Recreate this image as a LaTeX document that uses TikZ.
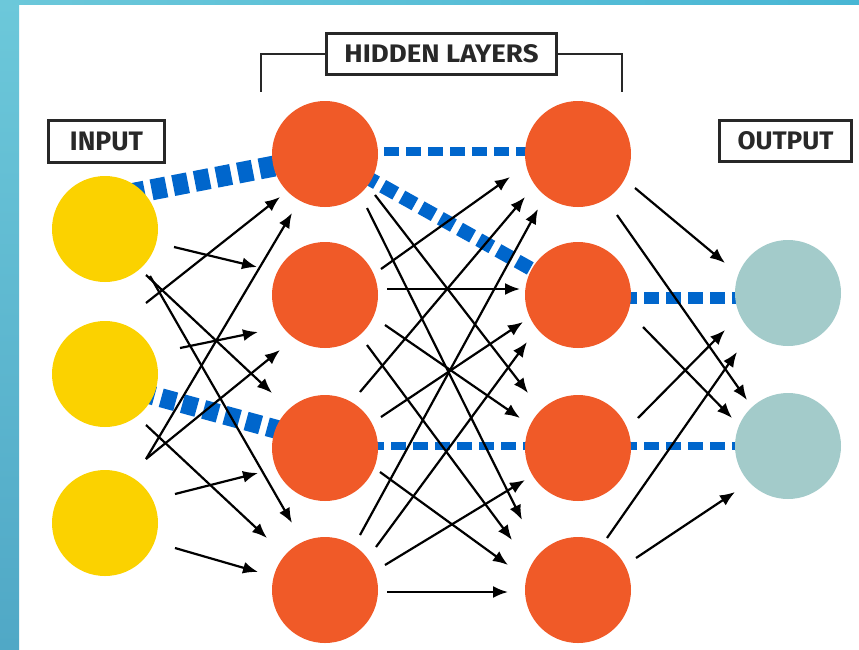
\documentclass[tikz,border=0pt]{standalone}
\usepackage{graphicx}
\usepackage{fontspec}
\setmainfont{Fira Sans}
\usetikzlibrary{arrows.meta,calc}
\definecolor{yel}{RGB}{251,210,0}
\definecolor{org}{RGB}{240,90,40}
\definecolor{tea}{RGB}{163,203,202}
\definecolor{blu}{RGB}{0,102,204}
\definecolor{frm}{RGB}{108,200,218}
\definecolor{frmd}{RGB}{80,168,198}
\definecolor{frmr}{RGB}{72,182,212}
\definecolor{ink}{RGB}{40,40,40}
\tikzset{
  neuron/.style={circle, inner sep=0pt, minimum size=106pt, draw=none},
  lbl/.style={draw=ink, line width=2.6pt, inner sep=0pt, text=ink, font=\bfseries},
  arr/.style={-{Latex[length=15pt,width=12pt]}, line width=2.2pt, black},
  bd/.style={blu, dash pattern=on 15pt off 7pt},
  brk/.style={ink, line width=2.4pt}
}
\begin{document}
\begin{tikzpicture}[x=1pt,y=-1pt]
\useasboundingbox (0,0) rectangle (859,649);
\fill[white] (0,0) rectangle (859,649);
\shade[top color=frm, bottom color=frmd] (0,0) rectangle (19,649);
\shade[left color=frm, right color=frmr] (0,0) rectangle (859,4.5);

% neuron positions
\path
  (105,229) coordinate (i1c) (105,374) coordinate (i2c) (105,523) coordinate (i3c)
  (325,154) coordinate (a1c) (325,295) coordinate (a2c) (325,448) coordinate (a3c) (325,590) coordinate (a4c)
  (578,154) coordinate (b1c) (578,295) coordinate (b2c) (578,448) coordinate (b3c) (578,590) coordinate (b4c)
  (788,293) coordinate (o1c) (788,446) coordinate (o2c);

% blue dashed links (behind neurons)
\draw[bd, line width=21pt] ([shift={(25,-35)}]i1c) -- ([shift={(-35,9)}]a1c);
\draw[bd, line width=19pt] ([shift={(35,18)}]i2c) -- ([shift={(-35,-15)}]a3c);
\draw[bd, line width=9pt] ([shift={(15,-3)}]a1c) -- ([shift={(-18,-3)}]b1c);
\draw[bd, line width=14pt] (a1c) -- (b2c);
\draw[bd, line width=12pt] ([shift={(0,3)}]b2c) -- ([shift={(0,5)}]o1c);
\draw[bd, line width=8pt] ([shift={(0,-2.5)}]a3c) -- ([shift={(0,-2.5)}]b3c);
\draw[bd, line width=8.5pt] ([shift={(0,-2)}]b3c) -- (o2c);

% neurons
\node[neuron, fill=yel] (i1) at (i1c) {};
\node[neuron, fill=yel] (i2) at (i2c) {};
\node[neuron, fill=yel] (i3) at (i3c) {};
\node[neuron, fill=org] (a1) at (a1c) {};
\node[neuron, fill=org] (a2) at (a2c) {};
\node[neuron, fill=org] (a3) at (a3c) {};
\node[neuron, fill=org] (a4) at (a4c) {};
\node[neuron, fill=org] (b1) at (b1c) {};
\node[neuron, fill=org] (b2) at (b2c) {};
\node[neuron, fill=org] (b3) at (b3c) {};
\node[neuron, fill=org] (b4) at (b4c) {};
\node[neuron, fill=tea] (o1) at (o1c) {};
\node[neuron, fill=tea] (o2) at (o2c) {};

% input -> hidden 1
\draw[arr] ([shift={(69,18)}]i1.center) -- ([shift={(-68,-28)}]a2.center);
\draw[arr] ([shift={(41,-71)}]i2.center) -- ([shift={(-45,43)}]a1.center);
\draw[arr] ([shift={(41,46)}]i1.center) -- ([shift={(-53,-55)}]a3.center);
\draw[arr] ([shift={(45,47)}]i1.center) -- ([shift={(-33,-67)}]a4.center);
\draw[arr] ([shift={(75,-26)}]i2.center) -- ([shift={(-67,37)}]a2.center);
\draw[arr] ([shift={(41,-64)}]i3.center) -- ([shift={(-45,55)}]a2.center);
\draw[arr] ([shift={(41,-64)}]i3.center) -- ([shift={(-33,59)}]a1.center);
\draw[arr] ([shift={(41,51)}]i2.center) -- ([shift={(-58,-52)}]a4.center);
\draw[arr] ([shift={(70,-29)}]i3.center) -- ([shift={(-67,25)}]a3.center);
\draw[arr] ([shift={(70,25)}]i3.center) -- ([shift={(-67,-18)}]a4.center);

% hidden 1 -> hidden 2
\draw[arr] ([shift={(50,41)}]a1.center) -- ([shift={(-50,-55)}]b3.center);
\draw[arr] ([shift={(42,54)}]a1.center) -- ([shift={(-56,-70)}]b4.center);
\draw[arr] ([shift={(56,-26)}]a2.center) -- ([shift={(-68,23)}]b1.center);
\draw[arr] ([shift={(62,-6)}]a2.center) -- ([shift={(-58,-6)}]b2.center);
\draw[arr] ([shift={(60,30)}]a2.center) -- ([shift={(-58,-30)}]b3.center);
\draw[arr] ([shift={(42,50)}]a2.center) -- ([shift={(-66,-50)}]b4.center);
\draw[arr] ([shift={(35,-56)}]a3.center) -- ([shift={(-53,43)}]b1.center);
\draw[arr] ([shift={(56,-31)}]a3.center) -- ([shift={(-55,27)}]b2.center);
\draw[arr] ([shift={(55,24)}]a3.center) -- ([shift={(-70,-25)}]b4.center);
\draw[arr] ([shift={(35,-55)}]a4.center) -- ([shift={(-40,55)}]b1.center);
\draw[arr] ([shift={(51,-43)}]a4.center) -- ([shift={(-51,47)}]b2.center);
\draw[arr] ([shift={(60,-25)}]a4.center) -- ([shift={(-53,32)}]b3.center);
\draw[arr] ([shift={(62,2)}]a4.center) -- ([shift={(-70,2)}]b4.center);

% hidden 2 -> output
\draw[arr] ([shift={(57,34)}]b1.center) -- ([shift={(-63,-30)}]o1.center);
\draw[arr] ([shift={(39,61)}]b1.center) -- ([shift={(-41,-46)}]o2.center);
\draw[arr] ([shift={(65,32)}]b2.center) -- ([shift={(-56,-28)}]o2.center);
\draw[arr] ([shift={(60,-30)}]b3.center) -- ([shift={(-63,37)}]o1.center);
\draw[arr] ([shift={(29,-52)}]b4.center) -- ([shift={(-51,59)}]o1.center);
\draw[arr] ([shift={(58,-32)}]b4.center) -- ([shift={(-53,46)}]o2.center);

% labels
\node[lbl, minimum width=230.4pt, minimum height=41.4pt] (hid) at (441.5,54) {\resizebox{194pt}{18pt}{HIDDEN LAYERS}};
\node[lbl, minimum width=116.4pt, minimum height=42.4pt] (inp) at (106.5,141.5) {\resizebox{73pt}{18.5pt}{INPUT}};
\node[lbl, minimum width=132.4pt, minimum height=41.4pt] (out) at (785.5,141) {\resizebox{96pt}{18pt}{OUTPUT}};
\coordinate (bl) at (261,92);
\coordinate (br) at (622,92);
\draw[brk] (hid.west) -| (bl);
\draw[brk] (hid.east) -| (br);
\end{tikzpicture}
\end{document}
